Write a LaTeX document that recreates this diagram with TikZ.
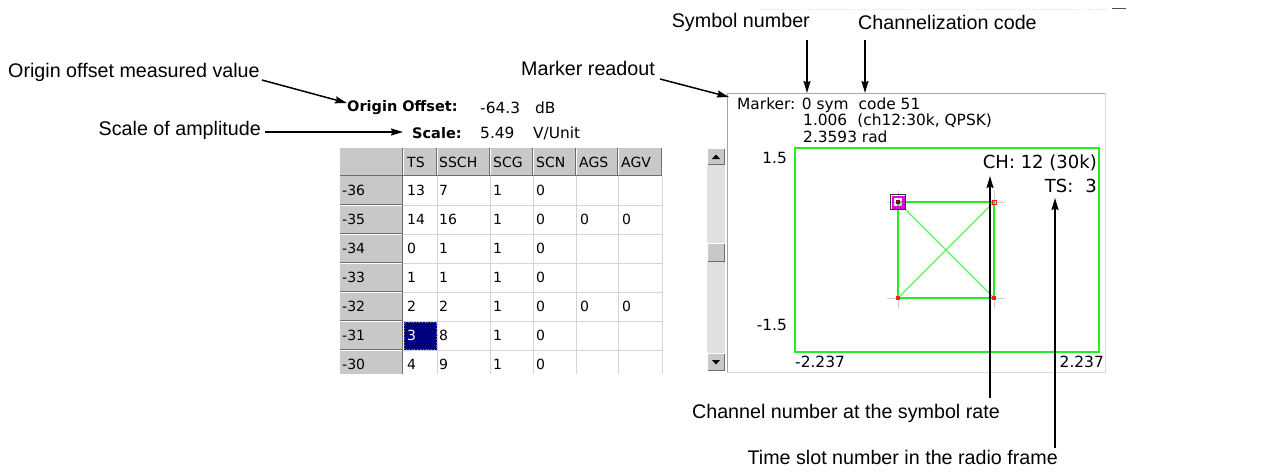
\documentclass[tikz,border=0pt]{standalone}
\usepackage{fontspec}
\setmainfont{Liberation Sans}
\newfontfamily\scrfont{DejaVu Sans}
\usetikzlibrary{arrows.meta,calc}
\definecolor{scrgreen}{RGB}{40,235,40}
\definecolor{diaggreen}{RGB}{95,238,95}
\definecolor{btngrey}{RGB}{200,200,200}
\definecolor{btndark}{RGB}{110,110,110}
\definecolor{gridgrey}{RGB}{212,212,212}
\definecolor{hlnavy}{RGB}{0,0,128}
\definecolor{trackgrey}{RGB}{224,224,224}
\definecolor{panelgrey}{RGB}{165,165,165}
\definecolor{panellight}{RGB}{218,218,218}
\definecolor{tickgrey}{RGB}{205,205,205}
\definecolor{mkmag}{RGB}{230,0,230}
\definecolor{mkred}{RGB}{240,30,30}
\begin{document}
\begin{tikzpicture}[x=1pt,y=-1pt,
  lbl/.style={font=\fontsize{19.7pt}{22pt}\selectfont, inner sep=0pt},
  scr/.style={font=\scrfont\fontsize{15.4pt}{17pt}\selectfont, inner sep=0pt},
  scrbold/.style={font=\scrfont\bfseries\fontsize{14.5pt}{16pt}\selectfont, inner sep=0pt},
  scrbig/.style={font=\scrfont\fontsize{18pt}{20pt}\selectfont, inner sep=0pt},
  tbl/.style={font=\scrfont\fontsize{14pt}{16pt}\selectfont, inner sep=0pt, anchor=west},
  callout/.style={-{Stealth[length=12pt,width=7pt,inset=1.5pt]}, line width=1.5pt},
  btnhi/.style={white, line width=1pt},
  btnlo/.style={btndark, line width=1pt}
]
\useasboundingbox (0,0) rectangle (1269,474);

% faint artefact line at the top
\draw[gray!25, dotted, line width=0.8pt] (760,9) -- (1108,9);
\draw[black!70, line width=0.8pt] (1112,8.5) -- (1126,8.5);

% ---------------- table ----------------
\begin{scope}
\clip (338,146) rectangle (664,373);
\fill[btngrey] (340,148) rectangle (662,176);
\fill[btngrey] (340,176) rectangle (403,380);
% grid
\foreach \gx in {437,490,533,576,618,662}
  \draw[gridgrey, line width=1pt] (\gx,176) -- (\gx,380);
\foreach \gy in {205,234,263,292,321,350,379}
  \draw[gridgrey, line width=1pt] (403,\gy) -- (662,\gy);
% header separators
\foreach \gx in {403,437,490,533,576,618,662}{
  \draw[btnlo] (\gx-0.5,148) -- (\gx-0.5,176);
  \draw[btnhi] (\gx+0.5,149) -- (\gx+0.5,175);
}
\draw[btnlo] (340,175.5) -- (662,175.5);
% row header buttons
\foreach \gy in {205,234,263,292,321,350,379}{
  \draw[btnlo] (340,\gy-0.5) -- (403,\gy-0.5);
  \draw[btnhi] (340,\gy+0.5) -- (402,\gy+0.5);
}
\draw[btnlo] (402.5,176) -- (402.5,380);
% highlighted cell
\fill[hlnavy] (404,322) rectangle (436.5,349.5);
\draw[gray, dotted, line width=0.8pt] (404.5,322.5) rectangle (436,349);
% header texts
\node[tbl] (hTS)   at (407,162) {TS};
\node[tbl] (hSSCH) at (439,162) {SSCH};
\node[tbl] (hSCG)  at (493,162) {SCG};
\node[tbl] (hSCN)  at (536,162) {SCN};
\node[tbl] (hAGS)  at (579,162) {AGS};
\node[tbl] (hAGV)  at (621,162) {AGV};
% rows
\foreach \lab/\a/\b/\tc [count=\i from 0] in
   {-36/13/7/black, -35/14/16/black, -34/0/1/black, -33/1/1/black,
    -32/2/2/black, -31/3/8/white, -30/4/9/black}{
  \pgfmathsetmacro\yc{190.5+29*\i}
  \node[tbl] (rh\i) at (342,\yc) {\lab};
  \node[tbl, text=\tc] (ts\i) at (407,\yc) {\a};
  \node[tbl] (ss\i) at (439,\yc) {\b};
  \node[tbl] (cg\i) at (493,\yc) {1};
  \node[tbl] (cn\i) at (536,\yc) {0};
}
\node[tbl] (ags1) at (580,219.5) {0};
\node[tbl] (agv1) at (622,219.5) {0};
\node[tbl] (ags4) at (580,306.5) {0};
\node[tbl] (agv4) at (622,306.5) {0};
\end{scope}

% ---------------- scrollbar ----------------
\fill[trackgrey] (707,165) rectangle (725,353);
\foreach \ya/\yb in {148/165, 243/262, 353/371}{
  \fill[btngrey] (707,\ya) rectangle (725,\yb);
  \draw[btnhi] (707.5,\yb-0.5) -- (707.5,\ya+0.5) -- (724.5,\ya+0.5);
  \draw[btnlo] (707.5,\yb-0.5) -- (724.5,\yb-0.5) -- (724.5,\ya+0.5);
}
\fill (712,159) -- (720,159) -- (716,154.5) -- cycle;
\fill (712,360) -- (720,360) -- (716,364.5) -- cycle;

% ---------------- display panel ----------------
\draw[panelgrey, line width=1pt] (727,373) -- (727,93) -- (1105,93);
\draw[panellight, line width=1pt] (1105,93) -- (1105,372) -- (727,372);
\draw[scrgreen, line width=2pt] (795,148) rectangle (1099,352);

% constellation
\foreach \cx/\cy in {898/202, 994/202, 898/298, 994/298}
  \draw[tickgrey, line width=1pt] (\cx-11,\cy) -- (\cx+11,\cy) (\cx,\cy-11) -- (\cx,\cy+11);
\draw[diaggreen, line width=1.2pt] (898,202) -- (994,298) (994,202) -- (898,298);
\draw[scrgreen, line width=1.5pt] (898,202) rectangle (994,298);
\fill[mkred] (896,296) rectangle (900,300);
\fill[mkred] (992,296) rectangle (996,300);
\draw[mkred, line width=1pt] (992,200) rectangle (996,204);
\draw[black!80, line width=1.2pt] (890.5,194.5) rectangle (905.5,209.5);
\draw[mkmag, line width=2.2pt] (892.6,196.6) rectangle (903.4,207.4);
\fill[purple!70!black] (896,200) rectangle (900,204);

% screen texts
\node[scrbold, anchor=west] (oolbl) at (347,108) {Origin Offset:};
\node[scr, anchor=west] (ooval) at (480,108) {-64.3};
\node[scr, anchor=west] (oounit) at (535,108) {dB};
\node[scrbold, anchor=west] (scalelbl) at (412,133) {Scale:};
\node[scr, anchor=west] (scaleval) at (480,133) {5.49};
\node[scr, anchor=west] (scaleunit) at (533,133) {V/Unit};

\node[scr, anchor=west] (mk1) at (737,105) {Marker: 0 sym\hspace{10pt}code 51};
\node[scr, anchor=west] (mk2) at (803,121) {1.006\hspace{10pt}(ch12:30k, QPSK)};
\node[scr, anchor=west] (mk3) at (803,137) {2.3593 rad};
\node[scr, anchor=east] (ymax) at (787,158) {1.5};
\node[scr, anchor=east] (ymin) at (787,325) {-1.5};
\node[scr, anchor=west] (xmin) at (795,362) {-2.237};
\node[scr, anchor=east] (xmax) at (1104,362) {2.237};
\node[scrbig, anchor=east] (chnode) at (1097,163) {CH: 12 (30k)};
\node[scrbig, anchor=east] (tsnode) at (1097,186) {TS:\hspace{12pt}3};

% ---------------- callout labels ----------------
\node[lbl, anchor=west] (lorig) at (8,72) {Origin offset measured value};
\node[lbl, anchor=east] (lscale) at (261,130) {Scale of amplitude};
\node[lbl, anchor=east] (lmark) at (655,68) {Marker readout};
\node[lbl, anchor=east] (lsym) at (810,22) {Symbol number};
\node[lbl, anchor=west] (lchan) at (858,22) {Channelization code};
\node[lbl, anchor=east] (lchnum) at (1000,413) {Channel number at the symbol rate};
\node[lbl, anchor=east] (lts) at (1058,457) {Time slot number in the radio frame};

% arrow targets
\coordinate (pcorner) at (729,97);
\coordinate (symtip) at (807,93);
\coordinate (codetip) at (865,93);
\coordinate (chtip) at (990,176);
\coordinate (tstip) at (1055,198);

% ---------------- callouts ----------------
\draw[callout] ($(lorig.east)+(2,8)$) -- ($(oolbl.west)+(0,-5)$);
\draw[callout] ($(lscale.east)+(4,2)$) -- ($(lscale.east -| scalelbl.west)+(-9,2)$);
\draw[callout] ($(lmark.east)+(5,11)$) -- (pcorner);
\draw[callout] (symtip |- 0,40) -- (symtip);
\draw[callout] (codetip |- 0,40) -- (codetip);
\draw[callout] ($(lchnum.north east)+(-10,-6)$) -- (chtip);
\draw[callout] ($(lts.north east)+(-3,-2)$) -- (tstip);
\end{tikzpicture}
\end{document}
